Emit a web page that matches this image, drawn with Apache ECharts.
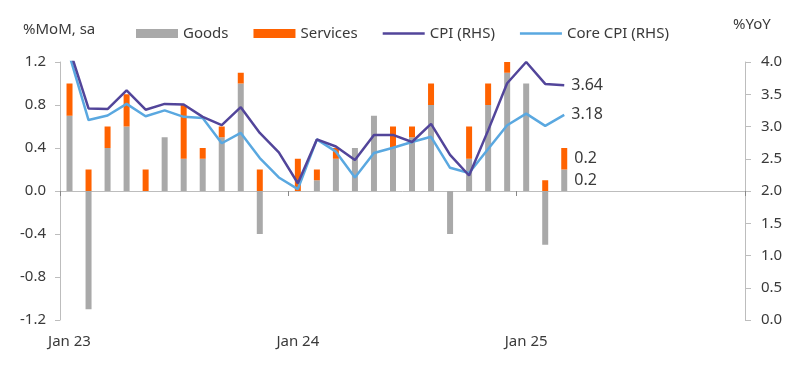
<!DOCTYPE html>
<html>
<head>
<meta charset="utf-8">
<script src="https://cdn.jsdelivr.net/npm/echarts@6/dist/echarts.min.js"></script>
<style>
html,body{margin:0;padding:0;background:#fff;}
#c{width:800px;height:368px;}
</style>
</head>
<body>
<div id="c"></div>
<script>
const categories = ["Jan 23","Feb 23","Mar 23","Apr 23","May 23","Jun 23","Jul 23","Aug 23","Sep 23","Oct 23","Nov 23","Dec 23",
  "Jan 24","Feb 24","Mar 24","Apr 24","May 24","Jun 24","Jul 24","Aug 24","Sep 24","Oct 24","Nov 24","Dec 24",
  "Jan 25","Feb 25","Mar 25","Apr 25","May 25","Jun 25","Jul 25","Aug 25","Sep 25","Oct 25","Nov 25","Dec 25"];
const goods = [0.7,-1.1,0.4,0.6,0,0.5,0.3,0.3,0.5,1.0,-0.4,0,0,0.1,0.3,0.4,0.7,0.4,0.5,0.8,-0.4,0.3,0.8,1.1,1.0,-0.5,0.2];
const services = [0.3,0.2,0.2,0.3,0.2,0,0.5,0.1,0.1,0.1,0.2,0,0.3,0.1,0.1,0,0,0.2,0.1,0.2,0,0.3,0.2,0.1,0,0.1,0.2];
const cpi = [4.2,3.28,3.27,3.56,3.26,3.35,3.34,3.15,3.02,3.30,2.90,2.60,2.12,2.80,2.69,2.48,2.87,2.87,2.76,3.04,2.56,2.24,2.94,3.67,4.0,3.66,3.64];
const coreCpi = [4.1,3.10,3.17,3.35,3.16,3.25,3.15,3.13,2.74,2.90,2.51,2.21,2.03,2.80,2.61,2.21,2.59,2.67,2.76,2.84,2.36,2.28,2.65,3.02,3.20,3.01,3.18];
const leftTicks = {min:-1.2, max:1.2, interval:0.4};
const rightTicks = {min:0, max:4, interval:0.5};

const FONT = '"Noto Sans", sans-serif';
const TXT = '#3a3a3a';
const AX = '#bdbdbd';

function withLastLabel(arr, fmt){
  return arr.map((v,i)=> i===arr.length-1 ? {value:v, label:{show:true, position:'right', distance:7, formatter: fmt, color:TXT, fontFamily:FONT, fontSize:16}} : v);
}
const endLabel = {show:true, distance:7, color:TXT, fontFamily:FONT, fontSize:16, formatter:p=>Number(p.value).toFixed(2)};

const LINE_ICON = 'path://M0,0H42V2.6H0Z';

const chart = echarts.init(document.getElementById('c'), null, {renderer:'canvas'});
chart.setOption({
  animation:false,
  textStyle:{fontFamily:FONT, color:TXT},
  grid:{left:60, right:55, top:62, bottom:48, containLabel:false},
  legend:{
    left:131, top:21, itemGap:25, itemWidth:42, itemHeight:9,
    textStyle:{fontFamily:FONT, fontSize:15, color:TXT},
    data:[
      {name:'Goods', icon:'rect'},
      {name:'Services', icon:'rect'},
      {name:'CPI (RHS)', icon:LINE_ICON},
      {name:'Core CPI (RHS)', icon:LINE_ICON}
    ]
  },
  graphic:[
    {type:'text', left:23, top:22, style:{text:'%MoM, sa', font:'15px '+FONT, fill:TXT}},
    {type:'text', left:733, top:17, style:{text:'%YoY', font:'15px '+FONT, fill:TXT}}
  ],
  xAxis:[
    {type:'category', data:categories, boundaryGap:true,
     axisLine:{show:false, onZero:false}, axisTick:{show:false},
     axisLabel:{interval:11, margin:14, fontSize:15, color:TXT, fontFamily:FONT}},
    {type:'category', data:categories, boundaryGap:true, position:'bottom',
     axisLine:{show:true, onZero:true, lineStyle:{color:AX, width:1}},
     axisTick:{show:true, interval:11, length:5, lineStyle:{color:'#888'}},
     axisLabel:{show:false}}
  ],
  yAxis:[
    {type:'value', min:leftTicks.min, max:leftTicks.max, interval:leftTicks.interval, position:'left',
     splitLine:{show:false},
     axisLine:{show:true, lineStyle:{color:AX}},
     axisTick:{show:true, length:5, lineStyle:{color:AX}},
     axisLabel:{margin:14, fontSize:15, color:TXT, fontFamily:FONT, formatter:v=>v.toFixed(1)}},
    {type:'value', min:rightTicks.min, max:rightTicks.max, interval:rightTicks.interval, position:'right',
     splitLine:{show:false},
     axisLine:{show:true, lineStyle:{color:AX}},
     axisTick:{show:true, length:6, lineStyle:{color:AX}},
     axisLabel:{margin:16, fontSize:15, color:TXT, fontFamily:FONT, formatter:v=>v.toFixed(1)}}
  ],
  series:[
    {name:'Goods', type:'bar', stack:'m', barWidth:6, xAxisIndex:0, yAxisIndex:0,
     itemStyle:{color:'#a9a9a9'}, data:withLastLabel(goods, p=>p.value.toFixed(1))},
    {name:'Services', type:'bar', stack:'m', barWidth:6, xAxisIndex:0, yAxisIndex:0,
     itemStyle:{color:'#ff6200'}, data:withLastLabel(services, p=>p.value.toFixed(1))},
    {name:'CPI (RHS)', type:'line', xAxisIndex:0, yAxisIndex:1, symbol:'none', clip:true,
     lineStyle:{color:'#52459a', width:2.5}, itemStyle:{color:'#52459a'}, z:4,
     endLabel:endLabel, data:cpi},
    {name:'Core CPI (RHS)', type:'line', xAxisIndex:0, yAxisIndex:1, symbol:'none', clip:true,
     lineStyle:{color:'#5aa8e0', width:2.5}, itemStyle:{color:'#5aa8e0'}, z:3,
     endLabel:endLabel, data:coreCpi}
  ]
});
</script>
</body>
</html>
